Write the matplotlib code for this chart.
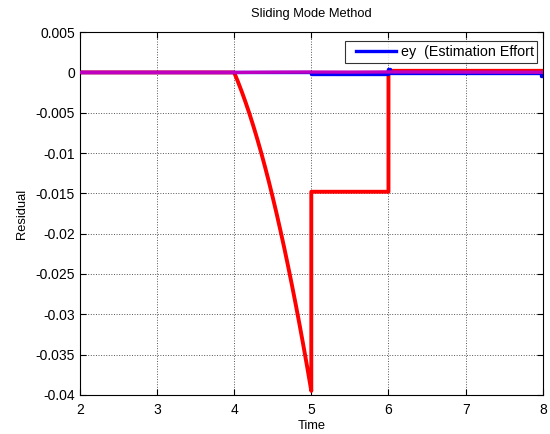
import matplotlib
matplotlib.use("Agg")
import matplotlib.pyplot as plt
from matplotlib.ticker import FuncFormatter
from matplotlib.legend_handler import HandlerLine2D

# red residual (fault on): curve down between t=4 and t=5, then steps
red_t = [2.0, 4.0, 4.05, 4.1, 4.15, 4.2, 4.25, 4.3, 4.35, 4.4, 4.45, 4.5,
         4.55, 4.6, 4.65, 4.7, 4.75, 4.8, 4.85, 4.9, 4.95, 5.0,
         5.0, 6.0, 6.0, 8.0]
red_y = [0.0, 0.0, -0.00116, -0.00241, -0.00375, -0.00516, -0.00667, -0.00826,
         -0.00993, -0.0117, -0.01354, -0.01548, -0.01749, -0.0196, -0.02178,
         -0.02406, -0.02642, -0.02886, -0.03139, -0.03401, -0.03671, -0.0395,
         -0.0148, -0.0148, 0.0002, 0.0002]

# blue estimation effort
blue_t = [2.0, 4.0, 4.0, 5.0, 5.0, 6.0, 6.0, 6.02, 6.02, 7.98, 7.98, 8.0]
blue_y = [0.0, 0.0, 0.00008, 0.00008, -0.0002, -0.0002, 0.0004, 0.0004,
          -0.0001, -0.0001, -0.0004, -0.0004]

# magenta residual, stays near zero
mag_t = [2.0, 4.0, 4.5, 5.0, 5.5, 6.0, 6.5, 7.0, 7.5, 8.0]
mag_y = [0.0, 0.0, 0.00003, 0.00005, 0.00004, 0.00006, 0.00005, 0.00004, 0.00003, 0.00002]

xticks = [2, 3, 4, 5, 6, 7, 8]
yticks = [0.005, 0, -0.005, -0.01, -0.015, -0.02, -0.025, -0.03, -0.035, -0.04]


class PaddedLine(HandlerLine2D):
    # matlab style legend: blank space before the sample line
    def get_xdata(self, legend, xdescent, ydescent, width, height, fontsize):
        return [-xdescent + 0.15 * width, -xdescent + width], [-xdescent + 0.15 * width, -xdescent + width]


plt.rcParams['font.family'] = ['Liberation Sans', 'DejaVu Sans']

fig = plt.figure(figsize=(5.5, 4.34), dpi=100)
ax = fig.add_axes([0.145, 0.09, 0.842, 0.836])

ax.plot(red_t, red_y, color='#ff0000', lw=2.8, zorder=2)
ln, = ax.plot(blue_t, blue_y, color='#0000ff', lw=2.4, zorder=3, label='ey  (Estimation Effort')
ax.plot(mag_t, mag_y, color='#c000c0', lw=2.4, zorder=4)

ax.set_xlim(2, 8)
ax.set_ylim(-0.04, 0.005)
ax.set_xticks(xticks)
ax.set_yticks(yticks)
ax.yaxis.set_major_formatter(FuncFormatter(lambda v, p: '%g' % round(v, 4)))
ax.grid(True, linestyle=':', color='#555555', lw=0.7)
ax.tick_params(direction='in', top=True, right=True, labelsize=10, length=4, width=0.8)
ax.tick_params(axis='x', pad=6)
for s in ax.spines.values():
    s.set_linewidth(0.8)

ax.set_title('Sliding Mode Method', fontsize=9.3, pad=11)
ax.set_xlabel('Time', fontsize=9.3, labelpad=2)
ax.set_ylabel('Residual', fontsize=9.3, labelpad=5)

leg = ax.legend(loc='upper right', fontsize=10.3, frameon=True, fancybox=False,
                edgecolor='black', borderpad=0.25, handlelength=3.3, handletextpad=0.3,
                bbox_to_anchor=(1.0, 0.99), borderaxespad=0.4,
                handler_map={ln: PaddedLine()})
leg.get_frame().set_linewidth(0.8)

fig.savefig('out.png', dpi=100)
